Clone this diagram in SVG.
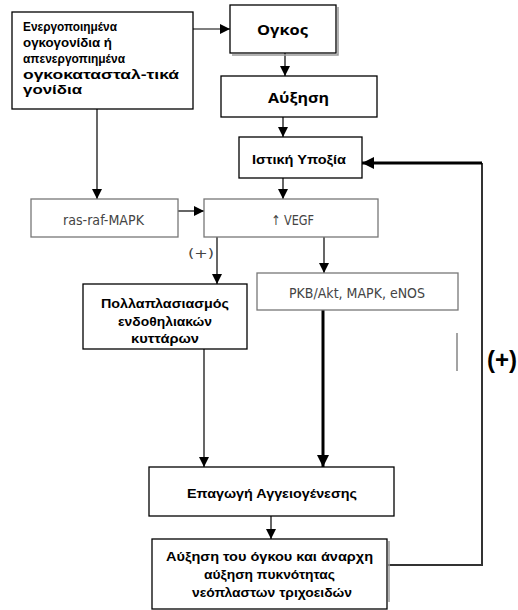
<svg xmlns="http://www.w3.org/2000/svg" width="518" height="610" viewBox="0 0 518 610">
<style>
.box{fill:#fff;stroke:#000;stroke-width:1.3}
.gbox{fill:#fff;stroke:#777;stroke-width:1.3}
.shadow{fill:none;stroke:#999;stroke-width:1.5}
.b{font-family:"Liberation Sans",Arial,sans-serif;font-weight:bold;font-size:13px;fill:#000}
.b2{font-family:"Liberation Sans",Arial,sans-serif;font-weight:bold;font-size:13.5px;fill:#000}
.c{font-family:"Open Sans","Noto Sans",sans-serif;font-weight:bold;font-size:15px;fill:#000}
.g{font-family:"DejaVu Sans Condensed","DejaVu Sans",sans-serif;font-size:13.5px;fill:#444}
.ln{stroke:#000;stroke-width:1.2;fill:none}
.thick{stroke:#000;stroke-width:3;fill:none}
</style>
<defs>
<marker id="ah" viewBox="0 0 10 10" refX="10" refY="5" markerWidth="10" markerHeight="10" markerUnits="userSpaceOnUse" orient="auto">
<path d="M0,0 L10,5 L0,10 z" fill="#000"/>
</marker>
<marker id="ahb" viewBox="0 0 10 10" refX="10" refY="5" markerWidth="12" markerHeight="12" markerUnits="userSpaceOnUse" orient="auto">
<path d="M0,0 L10,5 L0,10 z" fill="#000"/>
</marker>
</defs>
<g id="connectors">
<line class="ln" x1="193" y1="29" x2="230" y2="29" marker-end="url(#ah)"/>
<line class="ln" x1="285" y1="53" x2="285" y2="76" marker-end="url(#ah)"/>
<line class="ln" x1="283" y1="117" x2="283" y2="137" marker-end="url(#ah)"/>
<line class="ln" x1="97" y1="109" x2="97" y2="199" marker-end="url(#ah)"/>
<line class="ln" x1="283" y1="178" x2="283" y2="199" marker-end="url(#ah)"/>
<line class="ln" x1="178" y1="211" x2="204" y2="211" marker-end="url(#ah)"/>
<line class="ln" x1="217" y1="237" x2="217" y2="284" marker-end="url(#ah)"/>
<line class="ln" x1="324" y1="237" x2="324" y2="273" marker-end="url(#ah)"/>
<line class="ln" x1="204" y1="349" x2="204" y2="467" marker-end="url(#ah)"/>
<line class="thick" x1="323" y1="310" x2="323" y2="467" marker-end="url(#ahb)"/>
<line class="ln" x1="271" y1="516" x2="271" y2="539" marker-end="url(#ah)"/>
<polyline fill="none" stroke="#333" stroke-width="2" points="388,565 482,565 482,163"/>
<line class="thick" x1="482" y1="163" x2="362" y2="163" marker-end="url(#ahb)"/>
<line stroke="#666" stroke-width="1.2" x1="457" y1="333" x2="457" y2="371"/>
<text x="188" y="258" font-family="DejaVu Sans Condensed,DejaVu Sans,sans-serif" font-size="13" fill="#444" textLength="26" lengthAdjust="spacingAndGlyphs">(+)</text>
<text x="487" y="368" font-family="Liberation Sans,Arial,sans-serif" font-weight="bold" font-size="23" textLength="30" lengthAdjust="spacingAndGlyphs">(+)</text>
</g>
<g id="genes">
<rect class="box" x="12" y="12" width="181" height="97"/>
<text class="b2" x="23" y="31" textLength="94" lengthAdjust="spacingAndGlyphs">Ενεργοποιημένα</text>
<text class="b2" x="23" y="47" textLength="89" lengthAdjust="spacingAndGlyphs">ογκογονίδια ή</text>
<text class="b2" x="23" y="63" textLength="102" lengthAdjust="spacingAndGlyphs">απενεργοπιημένα</text>
<text class="b2" x="23" y="78.5" textLength="156" lengthAdjust="spacingAndGlyphs">ογκοκατασταλ-τικά</text>
<text class="b2" x="23" y="94" textLength="59" lengthAdjust="spacingAndGlyphs">γονίδια</text>
</g>
<g id="tumor">
<polyline class="shadow" points="338,7 338,55 232,55"/>
<rect class="box" x="230" y="5" width="106" height="48"/>
<text class="c" x="257" y="35" textLength="51" lengthAdjust="spacingAndGlyphs">Ογκος</text>
</g>
<g id="growth">
<rect class="box" x="221" y="76" width="156" height="41"/>
<text class="c" x="268" y="103" textLength="61" lengthAdjust="spacingAndGlyphs">Αύξηση</text>
</g>
<g id="hypoxia">
<rect class="box" x="239" y="137" width="123" height="41"/>
<text class="b" x="252" y="164" textLength="94" lengthAdjust="spacingAndGlyphs">Ιστική Υποξία</text>
</g>
<g id="ras">
<rect class="gbox" x="31" y="199" width="147" height="38"/>
<text class="g" x="63" y="225" textLength="81" lengthAdjust="spacingAndGlyphs">ras-raf-MAPK</text>
</g>
<g id="vegf">
<rect class="gbox" x="204" y="199" width="174" height="38"/>
<text class="g" x="271" y="225" textLength="43" lengthAdjust="spacingAndGlyphs">↑ VEGF</text>
</g>
<g id="prolif">
<rect class="box" x="83" y="284" width="164" height="65"/>
<text class="b" x="101" y="308" textLength="128" lengthAdjust="spacingAndGlyphs">Πολλαπλασιασμός</text>
<text class="b" x="118" y="326" textLength="94" lengthAdjust="spacingAndGlyphs">ενδοθηλιακών</text>
<text class="b" x="131" y="343" textLength="68" lengthAdjust="spacingAndGlyphs">κυττάρων</text>
</g>
<g id="pkb">
<rect class="gbox" x="257" y="273" width="201" height="37"/>
<text class="g" x="289" y="298" textLength="136" lengthAdjust="spacingAndGlyphs">PKB/Akt, MAPK, eNOS</text>
</g>
<g id="induction">
<rect class="box" x="149" y="467" width="245" height="49"/>
<text class="b" x="187" y="498" textLength="170" lengthAdjust="spacingAndGlyphs">Επαγωγή Αγγειογένεσης</text>
</g>
<g id="result">
<polyline class="shadow" points="389,541 389,602"/>
<rect class="box" x="152" y="539" width="235" height="70"/>
<text class="b" x="166" y="561" textLength="207" lengthAdjust="spacingAndGlyphs">Αύξηση του όγκου και άναρχη</text>
<text class="b" x="204" y="579" textLength="131" lengthAdjust="spacingAndGlyphs">αύξηση πυκνότητας</text>
<text class="b" x="192" y="597" textLength="160" lengthAdjust="spacingAndGlyphs">νεόπλαστων τριχοειδών</text>
</g>
</svg>
